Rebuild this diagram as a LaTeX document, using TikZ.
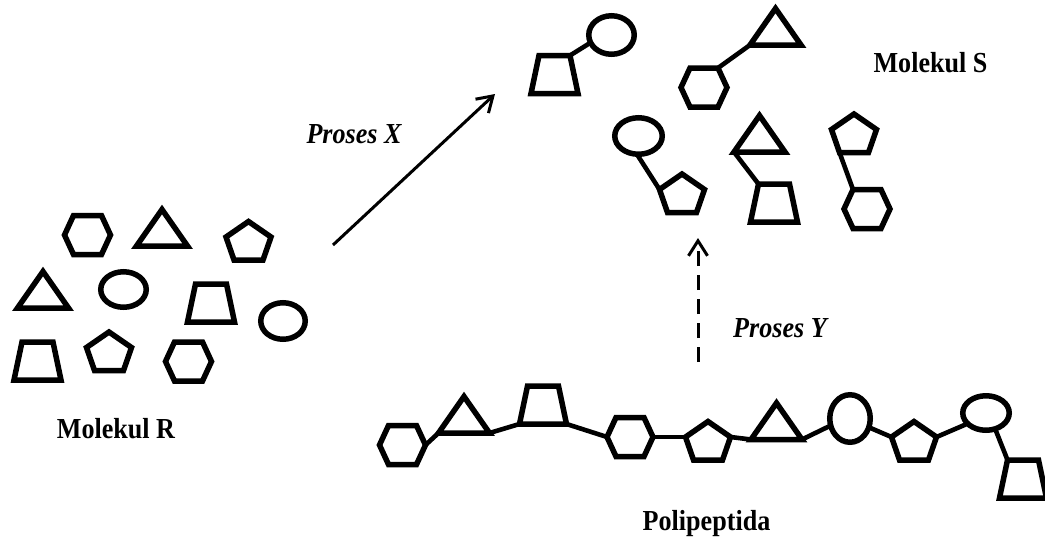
\documentclass[tikz,border=0pt]{standalone}
\usepackage{fontspec}
\setmainfont{Liberation Serif}
\usepackage{graphicx}
\usetikzlibrary{arrows.meta,shapes.geometric}

% Building blocks, drawn around a centre (x,y); each corner gets a name
% hexagon: 1=W 2=NW 3=NE 4=E 5=SE 6=SW
\newcommand\molhex[3]{%
  \draw[shp] (#2-23,#3) coordinate (#1-1) -- (#2-14,#3-19.5) coordinate (#1-2)
    -- (#2+14,#3-19.5) coordinate (#1-3) -- (#2+23,#3) coordinate (#1-4)
    -- (#2+14,#3+19.5) coordinate (#1-5) -- (#2-14,#3+19.5) coordinate (#1-6) -- cycle;}
% pentagon: 1=top 2=E 3=SE 4=SW 5=W
\newcommand\molpent[3]{%
  \draw[shp] (#2,#3-19.5) coordinate (#1-1) -- (#2+22.5,#3-4) coordinate (#1-2)
    -- (#2+14.5,#3+19) coordinate (#1-3) -- (#2-14.5,#3+19) coordinate (#1-4)
    -- (#2-22.5,#3-4) coordinate (#1-5) -- cycle;}
% triangle: 1=apex 2=base right 3=base left
\newcommand\moltri[3]{%
  \draw[shp] (#2,#3-17.5) coordinate (#1-1) -- (#2+25.5,#3+19) coordinate (#1-2)
    -- (#2-25.5,#3+19) coordinate (#1-3) -- cycle;}
% trapezoid: 1=top left 2=top right 3=bottom right 4=bottom left
\newcommand\moltrap[3]{%
  \draw[shp] (#2-15.5,#3-19) coordinate (#1-1) -- (#2+15.5,#3-19) coordinate (#1-2)
    -- (#2+23.5,#3+19) coordinate (#1-3) -- (#2-23.5,#3+19) coordinate (#1-4) -- cycle;}
\newcommand\narrowtext[1]{\scalebox{0.9}[1]{#1}}

\begin{document}
\begin{tikzpicture}[x=1pt,y=-1pt,
  shp/.style={draw=black,line width=5.5pt},
  ell/.style={draw=black,line width=5.5pt,ellipse,inner sep=0pt,outer sep=0pt},
  bond/.style={draw=black,line width=4.6pt},
  arr/.style={draw=black,line width=3pt,-{Straight Barb[length=15pt,width=19pt]}},
  lbl/.style={font=\fontsize{29}{30}\selectfont\bfseries,inner sep=0pt,anchor=base},
  ]
\useasboundingbox (0,0) rectangle (1045,542);

% ---- free building blocks (Molekul R)
\molhex{hR1}{87.5}{235}
\moltri{tR1}{162}{227}
\molpent{pR1}{248.5}{241}
\moltri{tR2}{43}{289}
\node[ell,minimum width=45.5pt,minimum height=35.5pt] (eR1) at (123.5,289.5) {};
\moltrap{qR1}{211}{303}
\node[ell,minimum width=44.5pt,minimum height=36.5pt] (eR2) at (283,321) {};
\moltrap{qR2}{37.5}{361}
\molpent{pR2}{109}{351.5}
\molhex{hR2}{188.5}{361.5}
\node[lbl] (labR) at (116,438) {\narrowtext{Molekul R}};

% ---- linked pairs (Molekul S)
\node[ell,minimum width=45.5pt,minimum height=38.5pt] (eS1) at (611.5,35) {};
\moltrap{qS1}{554.5}{74.5}
\draw[bond] (qS1-2) -- (eS1.200);

\moltri{tS1}{775.5}{26}
\molhex{hS1}{704}{87.5}
\draw[bond] (hS1-3) -- (tS1-3);

\node[ell,minimum width=47.5pt,minimum height=36.5pt] (eS2) at (638.5,136) {};
\molpent{pS1}{682}{193.5}
\draw[bond] (eS2.265) -- (pS1-5);

\moltri{tS2}{759.5}{133}
\moltrap{qS2}{774}{203}
\draw[bond] (tS2-3) -- (qS2-1);

\molpent{pS2}{854}{133.5}
\molhex{hS2}{867}{209}
\draw[bond] (pS2-4) -- (hS2-2);

\node[lbl] (labS) at (930.5,72) {\narrowtext{Molekul S}};

% ---- polypeptide chain
\molhex{hP1}{402.5}{445}
\moltri{tP1}{464}{414}
\moltrap{qP1}{543}{405}
\molhex{hP2}{630}{437}
\molpent{pP1}{708}{441}
\moltri{tP2}{776.5}{420.5}
\node[ell,minimum width=40.5pt,minimum height=47.5pt] (eP1) at (850,418.5) {};
\molpent{pP2}{914}{441}
\node[ell,minimum width=46.5pt,minimum height=34.5pt] (eP2) at (986,413) {};
\moltrap{qP2}{1023}{479}
\draw[bond] (hP1-4) -- (tP1-3);
\draw[bond] (tP1-2) -- (qP1-4);
\draw[bond] (qP1-3) -- (hP2-1);
\draw[bond] (hP2-4) -- (pP1-5);
\draw[bond] (pP1-2) -- (tP2-3);
\draw[bond] (tP2-2) -- (eP1.200);
\draw[bond] (eP1.-25) -- (pP2-5);
\draw[bond] (pP2-2) -- (eP2.210);
\draw[bond] (eP2.-60) -- (qP2-1);
\node[lbl] (labP) at (706.5,530) {\narrowtext{Polipeptida}};

% ---- processes
\coordinate (xs) at (333,245);
\coordinate (xe) at (495,94);
\draw[arr] (xs) -- (xe);
\node[lbl,font=\fontsize{29}{30}\selectfont\bfseries\itshape] (labX) at (354,143) {\narrowtext{Proses X}};

\coordinate (ys) at (698,362);
\coordinate (ye) at (698,238);
\draw[arr,dash pattern=on 15pt off 9pt] (ys) -- (ye);
\node[lbl,font=\fontsize{29}{30}\selectfont\bfseries\itshape] (labY) at (780,337) {\narrowtext{Proses Y}};
\end{tikzpicture}
\end{document}
